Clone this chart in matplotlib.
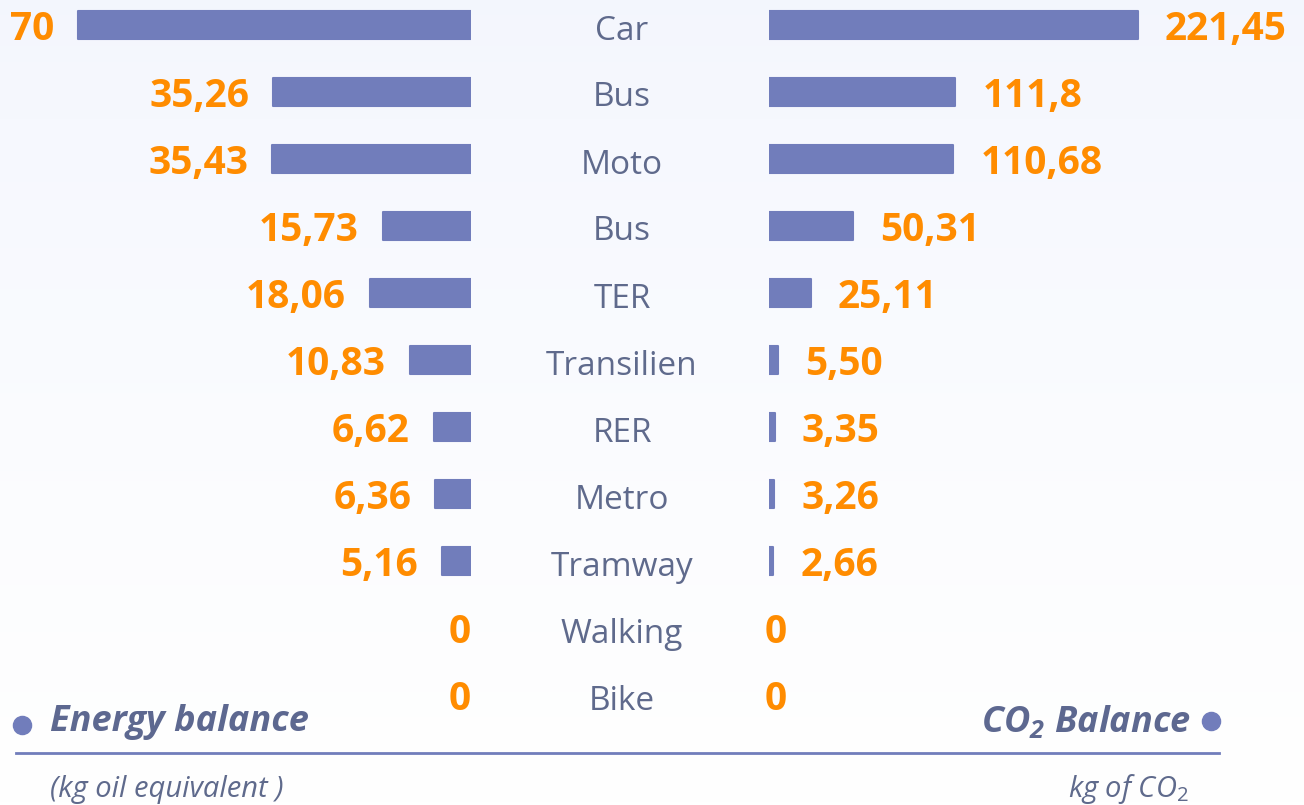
import matplotlib.pyplot as plt
import numpy as np

modes = ["Car", "Bus", "Moto", "Bus", "TER", "Transilien", "RER", "Metro",
         "Tramway", "Walking", "Bike"]
energy = [70, 35.26, 35.43, 15.73, 18.06, 10.83, 6.62, 6.36, 5.16, 0, 0]
energy_labels = ["70", "35,26", "35,43", "15,73", "18,06", "10,83", "6,62",
                 "6,36", "5,16", "0", "0"]
co2 = [221.45, 111.8, 110.68, 50.31, 25.11, 5.50, 3.35, 3.26, 2.66, 0, 0]
co2_labels = ["221,45", "111,8", "110,68", "50,31", "25,11", "5,50", "3,35",
              "3,26", "2,66", "0", "0"]

W, H = 1304, 805
BAR = "#717dbb"
ORANGE = "#ff8c00"
TXT = "#5f6a8c"
TITLE = "#5d6890"

plt.rcParams['font.family'] = ['Open Sans', 'DejaVu Sans']
plt.rcParams['mathtext.fontset'] = 'custom'
plt.rcParams['mathtext.it'] = 'Open Sans:italic'
plt.rcParams['mathtext.bf'] = 'Open Sans:italic:bold'
plt.rcParams['mathtext.rm'] = 'Open Sans'

fig = plt.figure(figsize=(W / 100, H / 100), dpi=100)

# background gradient
bg = fig.add_axes([0, 0, 1, 1])
grad = np.linspace(0, 1, 256).reshape(-1, 1)
top = np.array([0.955, 0.965, 0.995])
bot = np.array([1.0, 1.0, 1.0])
img = top + (bot - top) * grad[..., None] ** 0.8
bg.imshow(img.reshape(256, 1, 3), aspect='auto', extent=[0, 1, 0, 1])
bg.set_axis_off()

y = np.arange(len(modes))
ylim = (11.64, -0.373)


def lw(vals):
    return [1.5 if v > 0 else 0 for v in vals]


# left axes: energy, bars grow to the left
axl = fig.add_axes([0, 0, 471 / W, 1])
axl.set_xlim(83.9, 0)
axl.set_ylim(*ylim)
axl.barh(y, energy, height=0.42, color=BAR, edgecolor=BAR, linewidth=lw(energy),
         joinstyle='round')
for yi, v, s in zip(y, energy, energy_labels):
    off = -24 if v > 0 else 0
    axl.annotate(s, (v, yi), xytext=(off * 0.72, -3), textcoords='offset points',
                 ha='right', va='center', color=ORANGE, fontsize=28,
                 fontweight='bold')
axl.set_axis_off()

# right axes: CO2
axr = fig.add_axes([769 / W, 0, (W - 769) / W, 1])
axr.set_xlim(0, 321.1)
axr.set_ylim(*ylim)
axr.barh(y, co2, height=0.42, color=BAR, edgecolor=BAR, linewidth=lw(co2),
         joinstyle='round')
for yi, v, s in zip(y, co2, co2_labels):
    off = 27 if v > 0 else -4
    axr.annotate(s, (v, yi), xytext=(off * 0.72, -3), textcoords='offset points',
                 ha='left', va='center', color=ORANGE, fontsize=28,
                 fontweight='bold')
axr.set_axis_off()

# centre labels
for yi, m in zip(y, modes):
    fig.text(622 / W, 1 - (25 + 67 * yi + 6) / H, m, ha='center', va='center',
             color=TXT, fontsize=24)

# footer
def fy(py):
    return 1 - py / H


bg.plot([16 / W, 1219 / W], [fy(753), fy(753)], color=BAR, lw=2,
        transform=fig.transFigure)
bg.scatter([22 / W, 1211 / W], [fy(725), fy(721)], s=170, color=BAR,
           transform=fig.transFigure, zorder=3)
fig.text(50 / W, fy(722), "Energy balance", ha='left', va='center',
         color=TITLE, fontsize=26, fontweight='bold', style='italic')
fig.text(1191 / W, fy(722), r"CO$\mathbf{_2}$ Balance", ha='right', va='center',
         color=TITLE, fontsize=26, fontweight='bold', style='italic')
fig.text(50 / W, fy(789), "(kg oil equivalent )", ha='left', va='center',
         color=TXT, fontsize=21, style='italic')
fig.text(1189 / W, fy(789), "kg of CO$_2$", ha='right', va='center',
         color=TXT, fontsize=21, style='italic')

fig.savefig("out.png", dpi=100)
